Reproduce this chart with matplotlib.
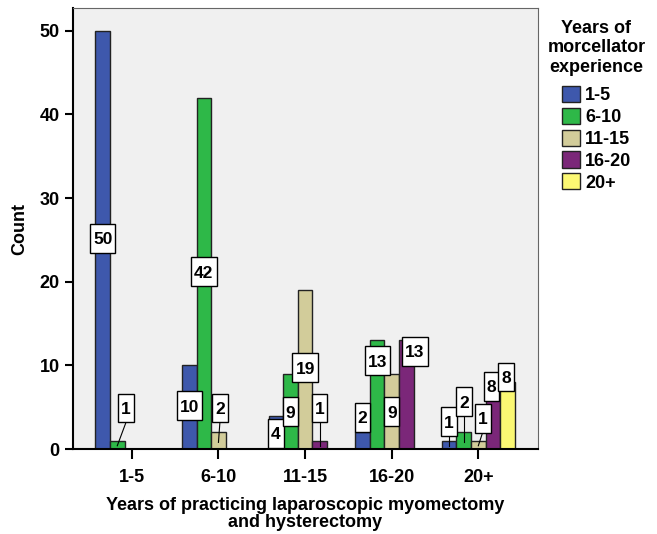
import matplotlib.pyplot as plt
import numpy as np
from matplotlib.path import Path

plt.rcParams['font.family'] = ['Liberation Sans', 'DejaVu Sans']
plt.rcParams['font.weight'] = 'bold'

practice = ['1-5', '6-10', '11-15', '16-20', '20+']
morcellator = ['1-5', '6-10', '11-15', '16-20', '20+']
colors = ['#3E58AC', '#2EB848', '#D2CC9A', '#7B2779', '#FBF873']

# counts[morcellator group][practice group]
c_1_5 = [50, 10, 4, 2, 1]
c_6_10 = [1, 42, 9, 13, 2]
c_11_15 = [0, 2, 19, 9, 1]
c_16_20 = [0, 0, 1, 13, 8]
c_20p = [0, 0, 0, 0, 8]
counts = [c_1_5, c_6_10, c_11_15, c_16_20, c_20p]

# label placement (x shift in bar widths, y in counts), default = centered on bar
label_pos = {
    (1, 0): (0.6, 4.7), (0, 1): (0.0, 5.0), (2, 1): (0.1, 4.7),
    (0, 2): (0.0, 1.7), (1, 2): (0.0, 4.3), (2, 2): (0.0, 9.5),
    (3, 2): (0.0, 4.7), (0, 3): (0.0, 3.6), (1, 3): (0.0, 10.4),
    (2, 3): (0.0, 4.3), (3, 3): (0.6, 11.5), (0, 4): (0.0, 3.1),
    (1, 4): (0.0, 5.5), (2, 4): (0.3, 3.5), (3, 4): (-0.1, 7.3),
    (4, 4): (-0.1, 8.4),
}
leaders = {(1, 0), (2, 1), (3, 2), (0, 4), (1, 4), (2, 4)}


def label_box(x0, y0, width, height, mutation_size):
    # narrow sides, tall top/bottom like the SPSS value labels
    px = 0.17 * mutation_size
    top = 0.50 * mutation_size
    bot = 0.30 * mutation_size
    x1, y1 = x0 + width + px, y0 + height + top
    x0, y0 = x0 - px, y0 - bot
    return Path([(x0, y0), (x1, y0), (x1, y1), (x0, y1), (x0, y0)], closed=True)


fig = plt.figure(figsize=(6.57, 5.34), dpi=100)
ax = fig.add_axes([0.111, 0.159, 0.708, 0.826])
ax.set_facecolor('#F0F0F0')

w = 0.168
x = np.arange(len(practice))
for i, (vals, col) in enumerate(zip(counts, colors)):
    xs = x + (i - 2) * w
    v = np.array(vals)
    m = v > 0
    ax.bar(xs[m], v[m], width=w, color=col, edgecolor='#222222', linewidth=1,
           label=morcellator[i], zorder=2)
    for j in range(len(practice)):
        if vals[j] == 0:
            continue
        dx, ly = label_pos.get((i, j), (0.0, vals[j] / 2))
        lx = xs[j] + dx * w
        if (i, j) in leaders:
            ax.plot([lx, xs[j]], [ly - 1.5, vals[j] * 0.4], color='black', lw=0.8, zorder=3)
        ax.text(lx, ly, str(vals[j]), ha='center', va='center', fontsize=12.5,
                fontweight='bold', zorder=4,
                bbox=dict(boxstyle=label_box, fc='white', ec='black', lw=1))

ax.set_xlim(-0.68, 4.69)
ax.set_ylim(0, 52.7)
ax.set_xticks(x)
ax.set_xticklabels(practice, fontsize=13, fontweight='bold')
ax.set_yticks(range(0, 51, 10))
ax.tick_params(axis='y', labelsize=13, width=1.5, length=6)
ax.tick_params(axis='x', width=1.5, length=7, pad=7)
for lab in ax.get_yticklabels():
    lab.set_fontweight('bold')
for s in ['left', 'bottom']:
    ax.spines[s].set_linewidth(1.5)
for s in ['top', 'right']:
    ax.spines[s].set_color('#666666')

ax.set_ylabel('Count', fontsize=13, fontweight='bold', labelpad=8)
ax.set_xlabel('Years of practicing laparoscopic myomectomy\nand hysterectomy',
              fontsize=13, fontweight='bold', labelpad=8, linespacing=1.0)

leg = ax.legend(title='Years of\nmorcellator\nexperience', loc='upper left',
                bbox_to_anchor=(0.985, 1.01), frameon=False, fontsize=13,
                title_fontproperties={'weight': 'bold', 'size': 13},
                handlelength=1.0, handleheight=1.0, handletextpad=0.3,
                labelspacing=0.2)
leg._legend_box.align = 'center'
leg._legend_box.sep = 7
leg.get_title().set_multialignment('center')
for t in leg.get_texts():
    t.set_fontweight('bold')

fig.savefig('out.png', dpi=100)
